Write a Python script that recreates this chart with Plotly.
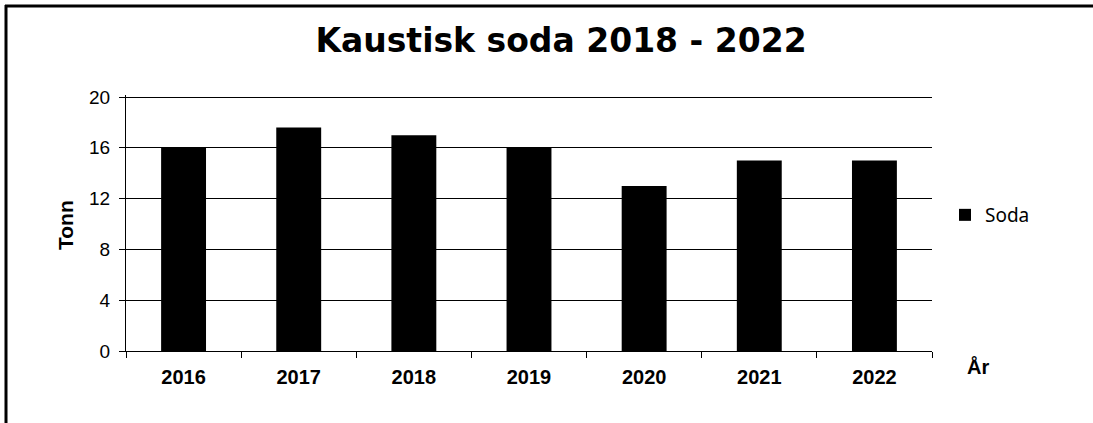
import plotly.graph_objects as go

years = ["2016", "2017", "2018", "2019", "2020", "2021", "2022"]
soda = [16, 17.6, 17, 16, 13, 15, 15]
y_ticks = [0, 4, 8, 12, 16, 20]

W, H = 1093, 423
L, R, T, B = 126, 932, 95, 351

def px(x):
    return (x - L) / (R - L)

def py(y):
    return (B - y) / (B - T)

fig = go.Figure()
fig.add_trace(go.Bar(x=years, y=soda, name="Soda", marker=dict(color="black", line=dict(width=0))))

fig.update_layout(
    width=W, height=H,
    margin=dict(l=L, r=W - R, t=T, b=H - B, autoexpand=False),
    paper_bgcolor="white", plot_bgcolor="white",
    bargap=0.61,
    title=dict(text="<b>Kaustisk soda 2018 - 2022</b>", xref="container", x=561 / W, xanchor="center",
               yref="container", y=1 - 40 / H, yanchor="middle",
               font=dict(family="DejaVu Sans", size=33, color="black")),
    showlegend=True,
    legend=dict(x=px(945), y=py(215), xanchor="left", yanchor="middle",
                font=dict(family="Noto Sans", size=19, color="black"),
                bgcolor="rgba(0,0,0,0)", itemwidth=30),
    font=dict(family="Liberation Sans", color="black"),
)
fig.update_yaxes(range=[0, 20.16], tickvals=y_ticks, showgrid=True, gridcolor="black", gridwidth=1.3,
                 showline=True, linecolor="black", linewidth=1.3, ticks="outside", ticklen=6,
                 tickcolor="black", tickfont=dict(size=19, family="Liberation Sans"), zeroline=False,
                 ticklabelstandoff=5)
fig.update_xaxes(type="category", showline=True, linecolor="black", linewidth=1.3, ticks="outside",
                 tickson="boundaries", ticklen=6, tickcolor="black",
                 tickfont=dict(size=20, family="Liberation Sans", weight="bold"),
                 ticklabelstandoff=8)

fig.add_annotation(text="<b>Tonn</b>", x=px(65), y=py(225), xref="paper", yref="paper",
                   xanchor="center", yanchor="middle",
                   textangle=-90, showarrow=False, font=dict(size=21, family="Liberation Sans"))
fig.add_annotation(text="<b>År</b>", x=px(978), y=py(366), xref="paper", yref="paper",
                   xanchor="center", yanchor="middle",
                   showarrow=False, font=dict(size=20, family="Liberation Sans"))

fig.add_shape(type="line", xref="paper", yref="paper", x0=px(5), x1=px(1093), y0=py(6), y1=py(6),
              line=dict(color="black", width=3))
fig.add_shape(type="line", xref="paper", yref="paper", x0=px(6), x1=px(6), y0=py(5), y1=py(423),
              line=dict(color="black", width=3))

fig.write_html("out.html", config={"displayModeBar": False},
               post_script="document.body.style.margin='0';")
